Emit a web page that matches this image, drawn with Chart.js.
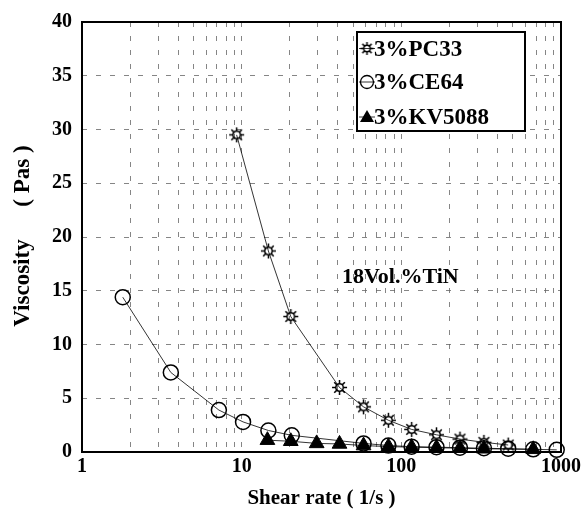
<!DOCTYPE html>
<html>
<head>
<meta charset="utf-8">
<script src="https://cdn.jsdelivr.net/npm/chart.js@4.4.1/dist/chart.umd.min.js"></script>
<style>
  html, body { margin: 0; padding: 0; background: #fff; }
</style>
</head>
<body>
<canvas id="chart" width="584" height="510"></canvas>
<script>
// ---------------- DATA ----------------
const seriesNames = ["3%PC33", "3%CE64", "3%KV5088"];

const pc33Rate = [9.3, 14.7, 20.3, 41, 58, 83, 116, 166, 233, 329, 467];
const pc33Visc = [29.5, 18.7, 12.6, 6.0, 4.2, 2.95, 2.1, 1.6, 1.2, 0.9, 0.65];

const ce64Rate = [1.8, 3.6, 7.2, 10.2, 14.7, 20.6, 58, 83, 116, 166, 233, 329, 467, 670, 940];
const ce64Visc = [14.4, 7.4, 3.9, 2.8, 2.0, 1.55, 0.8, 0.6, 0.5, 0.45, 0.4, 0.35, 0.3, 0.25, 0.2];

const kvRate = [14.5, 20.3, 29.5, 41, 58, 83, 116, 166, 233, 329, 670];
const kvVisc = [1.1, 1.0, 0.8, 0.75, 0.6, 0.5, 0.45, 0.4, 0.35, 0.3, 0.25];

const xTicks = [1, 2, 3, 4, 5, 6, 7, 8, 9, 10, 20, 30, 40, 50, 60, 70, 80, 90,
                100, 200, 300, 400, 500, 600, 700, 800, 900, 1000];
const xTickLabels = [1, 10, 100, 1000];
const yTicks = [0, 5, 10, 15, 20, 25, 30, 35, 40];

const FONT = '"Liberation Serif", "Times New Roman", serif';

// ---------------- MARKERS ----------------
function makeSun(r) {
  const c = document.createElement("canvas");
  const s = Math.ceil(r * 2 + 2);
  c.width = c.height = s;
  const g = c.getContext("2d");
  const m = s / 2;
  g.strokeStyle = "#000";
  g.lineWidth = 1.5;
  g.beginPath();
  g.arc(m, m, r * 0.5, 0, Math.PI * 2);
  g.stroke();
  for (let i = 0; i < 8; i++) {
    const a = i * Math.PI / 4;
    g.beginPath();
    g.moveTo(m + Math.cos(a) * r * 0.5, m + Math.sin(a) * r * 0.5);
    g.lineTo(m + Math.cos(a) * r, m + Math.sin(a) * r);
    g.stroke();
  }
  return c;
}
const sun = makeSun(7.5);
const sunSmall = makeSun(6.5);

function pts(xs, ys) {
  return xs.map((x, i) => ({ x: x, y: ys[i] }));
}

// ---------------- EXTRA DRAWING ----------------
const extras = {
  id: "extras",
  beforeDatasetsDraw(chart) {
    const ctx = chart.ctx;
    const a = chart.chartArea;
    ctx.save();
    ctx.strokeStyle = "#000";
    ctx.lineWidth = 2;
    ctx.strokeRect(a.left, a.top, a.right - a.left, a.bottom - a.top);
    ctx.restore();
  },
  afterDraw(chart) {
    const ctx = chart.ctx;
    ctx.save();
    ctx.fillStyle = "#000";
    ctx.strokeStyle = "#000";

    // y title
    ctx.font = "bold 23px " + FONT;
    ctx.textAlign = "center";
    ctx.textBaseline = "middle";
    ctx.save();
    ctx.translate(23, 283);
    ctx.rotate(-Math.PI / 2);
    ctx.fillText("Viscosity", 0, 0);
    ctx.restore();
    ctx.save();
    ctx.translate(23, 176);
    ctx.rotate(-Math.PI / 2);
    ctx.fillText("( Pas )", 0, 0);
    ctx.restore();

    // note
    ctx.font = "bold 22px " + FONT;
    ctx.textAlign = "left";
    ctx.textBaseline = "alphabetic";
    ctx.fillText("18Vol.%TiN", 342, 283);

    // legend box
    ctx.fillStyle = "#fff";
    ctx.fillRect(357, 32, 168, 99);
    ctx.lineWidth = 2;
    ctx.strokeRect(357, 32, 168, 99);
    ctx.fillStyle = "#000";
    const rows = [48.5, 82, 117];
    const mx = 367;
    rows.forEach((y, i) => {
      ctx.lineWidth = 0.8;
      ctx.beginPath();
      ctx.moveTo(359, y);
      ctx.lineTo(375, y);
      ctx.stroke();
      if (i === 0) {
        ctx.drawImage(sunSmall, mx - sunSmall.width / 2, y - sunSmall.height / 2);
      } else if (i === 1) {
        ctx.lineWidth = 1.3;
        ctx.beginPath();
        ctx.arc(mx, y, 6.5, 0, Math.PI * 2);
        ctx.stroke();
      } else {
        ctx.beginPath();
        ctx.moveTo(mx, y - 7);
        ctx.lineTo(mx + 7, y + 5);
        ctx.lineTo(mx - 7, y + 5);
        ctx.closePath();
        ctx.fill();
      }
      ctx.font = "bold 23px " + FONT;
      ctx.fillText(seriesNames[i], 374, y + 7);
    });
    ctx.restore();
  }
};

// ---------------- CHART ----------------
const gridOpts = { color: "#666", lineWidth: 0.8, drawTicks: false };
const tickFont = { family: FONT, size: 20, weight: "bold" };

new Chart(document.getElementById("chart"), {
  type: "line",
  data: {
    datasets: [
      {
        label: seriesNames[0],
        data: pts(pc33Rate, pc33Visc),
        borderColor: "#000",
        borderWidth: 0.8,
        pointStyle: sun,
        pointRadius: 7,
        clip: false
      },
      {
        label: seriesNames[1],
        data: pts(ce64Rate, ce64Visc),
        borderColor: "#000",
        borderWidth: 0.8,
        pointStyle: "circle",
        pointRadius: 7.5,
        pointBorderWidth: 1.5,
        pointBorderColor: "#000",
        pointBackgroundColor: "rgba(0,0,0,0)",
        clip: false
      },
      {
        label: seriesNames[2],
        data: pts(kvRate, kvVisc),
        borderColor: "#000",
        borderWidth: 0.8,
        pointStyle: "triangle",
        pointRadius: 8.5,
        pointBorderWidth: 1,
        pointBorderColor: "#000",
        pointBackgroundColor: "#000",
        clip: false
      }
    ]
  },
  options: {
    responsive: false,
    animation: false,
    layout: { padding: { top: 17, right: 23, left: 0, bottom: 0 } },
    plugins: { legend: { display: false }, tooltip: { enabled: false } },
    scales: {
      x: {
        type: "logarithmic",
        min: 1,
        max: 1000,
        afterBuildTicks: s => { s.ticks = xTicks.map(v => ({ value: v })); },
        afterFit: s => { s.height = 58; },
        ticks: {
          autoSkip: false,
          maxRotation: 0,
          padding: 3,
          color: "#000",
          font: tickFont,
          callback: v => xTickLabels.includes(v) ? String(v) : ""
        },
        grid: gridOpts,
        border: { display: false, dash: [5, 9] },
        title: {
          display: true,
          text: "Shear rate ( 1/s )",
          color: "#000",
          font: { family: FONT, size: 21, weight: "bold", lineHeight: 1 },
          padding: { top: 0, bottom: 1 }
        }
      },
      y: {
        min: 0,
        max: 40,
        afterBuildTicks: s => { s.ticks = yTicks.map(v => ({ value: v })); },
        afterFit: s => { s.width = 82; },
        ticks: { padding: 10, color: "#000", font: tickFont },
        grid: gridOpts,
        border: { display: false, dash: [5, 9] }
      }
    }
  },
  plugins: [extras]
});
</script>
</body>
</html>
